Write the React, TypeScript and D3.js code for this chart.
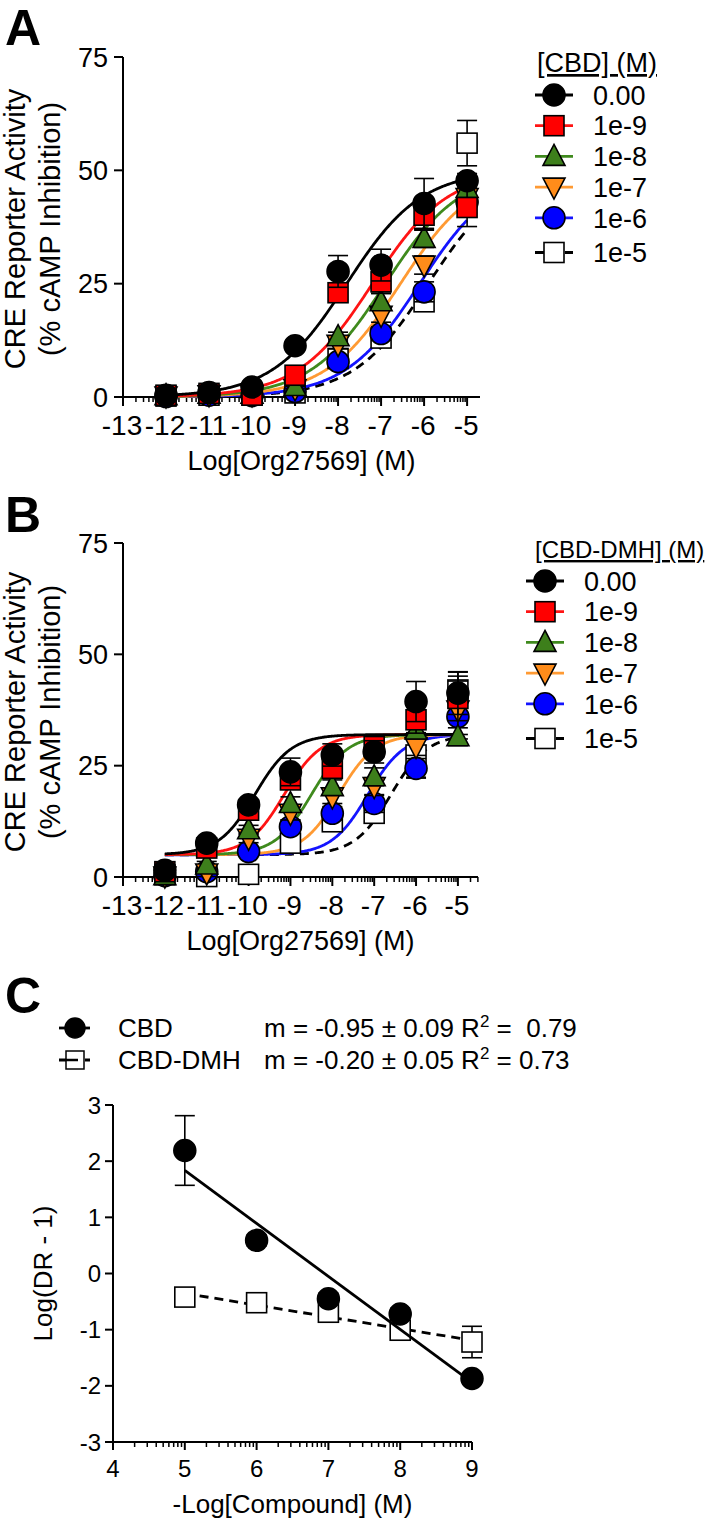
import React from 'react';
import * as d3 from 'd3';

// ---------- data ----------
const DOSES = [-12, -11, -10, -9, -8, -7, -6, -5];
const X_TICKS_AB = [-13, -12, -11, -10, -9, -8, -7, -6, -5];
const Y_TICKS_AB = [0, 25, 50, 75];
const SERIES_LABELS = ['0.00', '1e-9', '1e-8', '1e-7', '1e-6', '1e-5'];
const SERIES_FILL = ['#000000', '#ff0000', '#3d7f1b', '#ff8c1a', '#0000ff', '#ffffff'];
const SERIES_LINE = ['#000000', '#ff1414', '#3f8a1d', '#ff9a33', '#1414ff', '#000000'];
const SERIES_SHAPE = ['circle', 'square', 'triUp', 'triDown', 'circle', 'square'];

// Panel A (CBD)
const A_0 = [0.4, 1.0, 2.2, 11.3, 27.7, 29.1, 42.7, 47.7];
const A_E9 = [0.4, 0.8, 0.4, 4.8, 23.0, 25.4, 40.1, 41.8];
const A_E8 = [0.3, 0.6, 0.6, 2.3, 13.3, 21.0, 35.0, 46.0];
const A_E7 = [0.2, 0.5, 0.5, 1.8, 11.6, 18.0, 29.1, 44.0];
const A_E6 = [0.1, 0.4, 0.3, 1.2, 7.8, 14.0, 23.2, 43.0];
const A_E5 = [0.2, 0.4, 0.4, 0.9, 8.5, 13.0, 21.0, 56.0];
const A_SEM_0 = [0.3, 0.3, 0.5, 1.0, 3.5, 3.5, 5.5, 1.6];
const A_SEM_E9 = [0.2, 0.2, 0.3, 0.8, 1.5, 2.5, 3.3, 4.2];
const A_SEM_E8 = [0.2, 0.2, 0.2, 0.5, 1.0, 1.8, 2.0, 2.5];
const A_SEM_E7 = [0.2, 0.2, 0.2, 0.5, 1.0, 1.5, 2.0, 2.5];
const A_SEM_E6 = [0.2, 0.2, 0.2, 0.5, 1.0, 1.5, 2.2, 2.5];
const A_SEM_E5 = [0.2, 0.2, 0.2, 0.5, 1.0, 1.5, 2.0, 5.0];
const A_LOGEC50 = [-7.8, -7.2, -6.9, -6.55, -6.1, -5.9];
const A_TOP = [50, 50, 50, 50, 50, 50];
const A_BOTTOM = [0, 0, 0, 0, 0, 0];
const A_HILL = [0.5, 0.5, 0.5, 0.5, 0.5, 0.5];

// Panel B (CBD-DMH)
const B_0 = [1.5, 7.6, 16.2, 23.6, 27.4, 28.1, 39.4, 41.3];
const B_E9 = [1.2, 6.5, 15.0, 21.8, 24.4, 29.3, 35.3, 40.1];
const B_E8 = [0.3, 2.7, 10.6, 16.5, 20.3, 22.5, 33.0, 31.5];
const B_E7 = [0.2, 0.9, 8.7, 14.3, 18.0, 20.3, 29.3, 37.5];
const B_E6 = [0.3, 1.2, 5.7, 11.3, 14.3, 16.5, 24.4, 36.0];
const B_E5 = [0.5, 0.1, 0.6, 7.6, 12.4, 14.3, 27.4, 42.0];
const B_SEM_0 = [0.5, 1.0, 1.2, 3.1, 2.5, 2.5, 4.5, 4.8];
const B_SEM_E9 = [0.3, 0.8, 1.0, 1.5, 2.0, 2.5, 3.0, 5.0];
const B_SEM_E8 = [0.3, 0.8, 1.0, 1.5, 1.5, 2.0, 2.0, 2.0];
const B_SEM_E7 = [0.3, 0.8, 1.0, 1.5, 1.5, 2.0, 2.0, 6.5];
const B_SEM_E6 = [0.3, 0.8, 1.0, 1.5, 1.5, 2.0, 2.2, 4.0];
const B_SEM_E5 = [0.3, 0.5, 1.0, 1.5, 1.5, 2.0, 5.0, 4.0];
const B_LOGEC50 = [-9.85, -9.15, -8.5, -7.85, -7.15, -6.6];
const B_TOP = [32, 32, 32, 32, 32, 32];
const B_BOTTOM = [5, 5, 5, 5, 5, 5];
const B_HILL = [1, 1, 1, 1, 1, 1];

// Panel C (Schild)
const C_X = [5, 6, 7, 8, 9];
const C_CBD = [2.19, 0.59, -0.45, -0.72, -1.87];
const C_CBD_SEM = [0.62, 0.1, 0.1, 0.1, 0.05];
const C_DMH = [-0.42, -0.52, -0.69, -1.01, -1.22];
const C_DMH_SEM = [0.05, 0.05, 0.1, 0.1, 0.28];
const X_TICKS_C = [4, 5, 6, 7, 8, 9];
const Y_TICKS_C = [-3, -2, -1, 0, 1, 2, 3];

const FONT = "'Liberation Sans', Arial, Helvetica, sans-serif";

// ---------- helpers ----------
function hill(x: number, b: number, t: number, ec: number, h: number) {
  return b + (t - b) / (1 + Math.pow(10, (ec - x) * h));
}

function Marker({ shape, x, y, fill }: { shape: string; x: number; y: number; fill: string }) {
  const st = { stroke: '#000', strokeWidth: 1.6, fill };
  if (shape === 'circle') return <circle cx={x} cy={y} r={11} {...st} />;
  if (shape === 'square') return <rect x={x - 10} y={y - 10} width={20} height={20} {...st} />;
  if (shape === 'triUp')
    return <path d={`M${x},${y - 12}L${x + 11},${y + 9}L${x - 11},${y + 9}Z`} {...st} />;
  return <path d={`M${x - 11},${y - 9}L${x + 11},${y - 9}L${x},${y + 12}Z`} {...st} />;
}

function ErrBar({ x, y1, y2 }: { x: number; y1: number; y2: number }) {
  return (
    <g stroke="#000" strokeWidth={1.6}>
      <line x1={x} x2={x} y1={y1} y2={y2} />
      <line x1={x - 10} x2={x + 10} y1={y1} y2={y1} />
      <line x1={x - 10} x2={x + 10} y1={y2} y2={y2} />
    </g>
  );
}

function minorTicks(majors: number[], end: number) {
  const out: number[] = [];
  majors.forEach((m) => {
    for (let k = 2; k <= 9; k++) {
      const v = m + Math.log10(k);
      if (v <= end + 1e-9) out.push(v);
    }
  });
  return out;
}

type DoseProps = {
  letter: string;
  xDomain: [number, number];
  xRange: [number, number];
  yRange: [number, number];
  means: number[][];
  sems: number[][];
  ec: number[];
  tops: number[];
  bottoms: number[];
  hills: number[];
  legendTitle: string;
  legendX: number;
  legendTitleX: number;
  legendTitleY: number;
  legendTitleSize: number;
  letterY: number;
};

function DosePanel(p: DoseProps) {
  const x = d3.scaleLinear().domain(p.xDomain).range(p.xRange);
  const y = d3.scaleLinear().domain([0, 75]).range(p.yRange);
  const y0 = y(0);
  const xs = d3.range(-12, -5 + 1e-9, 0.02);
  const order = [5, 4, 3, 2, 1, 0];
  const minors = minorTicks(X_TICKS_AB, p.xDomain[1]);
  const cyTitle = (p.yRange[0] + p.yRange[1]) / 2 + 2;
  return (
    <g>
      <text x={5} y={p.letterY} fontSize={50} fontWeight="bold" fontFamily={FONT}>
        {p.letter}
      </text>
      {/* axes */}
      <g stroke="#000" strokeWidth={2} fill="none">
        <line x1={p.xRange[0]} x2={p.xRange[0]} y1={y(75)} y2={y0} />
        <line x1={p.xRange[0]} x2={p.xRange[1]} y1={y0} y2={y0} />
        {Y_TICKS_AB.map((t) => (
          <line key={'yt' + t} x1={p.xRange[0] - 9} x2={p.xRange[0]} y1={y(t)} y2={y(t)} />
        ))}
        {X_TICKS_AB.map((t) => (
          <line key={'xt' + t} x1={x(t)} x2={x(t)} y1={y0} y2={y0 + 9} />
        ))}
        {minors.map((t, i) => (
          <line key={'mt' + i} x1={x(t)} x2={x(t)} y1={y0} y2={y0 + 5} strokeWidth={1.5} />
        ))}
      </g>
      {Y_TICKS_AB.map((t) => (
        <text key={'yl' + t} x={p.xRange[0] - 15} y={y(t)} dy="0.36em" textAnchor="end" fontSize={27} fontFamily={FONT}>
          {t}
        </text>
      ))}
      {X_TICKS_AB.map((t) => (
        <text key={'xl' + t} x={x(t) - 1} y={y0 + 38} textAnchor="middle" fontSize={28} fontFamily={FONT}>
          {String(t)}
        </text>
      ))}
      <text x={(p.xRange[0] + p.xRange[1]) / 2} y={y0 + 73} textAnchor="middle" fontSize={27} fontFamily={FONT}>
        Log[Org27569] (M)
      </text>
      <text transform={`translate(25,${cyTitle}) rotate(-90)`} textAnchor="middle" fontSize={29} fontFamily={FONT}>
        CRE Reporter Activity
      </text>
      <text transform={`translate(60,${cyTitle}) rotate(-90)`} textAnchor="middle" fontSize={29} fontFamily={FONT}>
        (% cAMP Inhibition)
      </text>
      {/* curves */}
      {order.map((s) => {
        const line = d3
          .line<number>()
          .x((v) => x(v))
          .y((v) => y(hill(v, p.bottoms[s], p.tops[s], p.ec[s], p.hills[s])));
        return (
          <path
            key={'c' + s}
            d={line(xs) || ''}
            fill="none"
            stroke={SERIES_LINE[s]}
            strokeWidth={2.8}
            strokeDasharray={s === 5 ? '9,6' : undefined}
          />
        );
      })}
      {/* points */}
      {order.map((s) => (
        <g key={'p' + s}>
          {DOSES.map((d, i) => (
            <ErrBar key={'e' + i} x={x(d)} y1={y(p.means[s][i] + p.sems[s][i])} y2={y(Math.max(0, p.means[s][i] - p.sems[s][i]))} />
          ))}
          {DOSES.map((d, i) => (
            <Marker key={'m' + i} shape={SERIES_SHAPE[s]} x={x(d)} y={y(p.means[s][i])} fill={SERIES_FILL[s]} />
          ))}
        </g>
      ))}
      {/* legend */}
      <text x={p.legendTitleX} y={p.legendTitleY} fontSize={p.legendTitleSize} fontFamily={FONT} textDecoration="underline">
        {p.legendTitle}
      </text>
      {SERIES_LABELS.map((lab, s) => {
        const cy = p.legendTitleY - 10 + 33 + s * 30.7 + (s === 5 ? 4 : 0);
        return (
          <g key={'lg' + s}>
            <line
              x1={p.legendX}
              x2={p.legendX + 38}
              y1={cy}
              y2={cy}
              stroke={SERIES_LINE[s]}
              strokeWidth={2.8}
              strokeDasharray={s === 5 ? '9,6' : undefined}
            />
            <Marker shape={SERIES_SHAPE[s]} x={p.legendX + 19} y={cy} fill={SERIES_FILL[s]} />
            <text x={p.legendX + 58} y={cy} dy="0.36em" fontSize={27} fontFamily={FONT}>
              {lab}
            </text>
          </g>
        );
      })}
    </g>
  );
}

function linFit(xs: number[], ys: number[]) {
  const mx = d3.mean(xs) as number;
  const my = d3.mean(ys) as number;
  let num = 0;
  let den = 0;
  xs.forEach((v, i) => {
    num += (v - mx) * (ys[i] - my);
    den += (v - mx) * (v - mx);
  });
  const m = num / den;
  return (v: number) => my + m * (v - mx);
}

function SchildPanel() {
  const x = d3.scaleLinear().domain([4, 9]).range([113, 472]);
  const y = d3.scaleLinear().domain([-3, 3]).range([1442, 1105]);
  const y0 = y(-3);
  const minors = minorTicks([4, 5, 6, 7, 8], 9);
  const fCbd = linFit(C_X, C_CBD);
  const fDmh = linFit(C_X, C_DMH);
  const line = d3.line<[number, number]>().x((d) => x(d[0])).y((d) => y(d[1]));
  const ends = [5, 9];
  return (
    <g>
      <text x={5} y={1013} fontSize={50} fontWeight="bold" fontFamily={FONT}>
        C
      </text>
      {/* legend */}
      <line x1={59} x2={90} y1={1028} y2={1028} stroke="#000" strokeWidth={2.8} />
      <circle cx={75} cy={1028} r={10} fill="#000" stroke="#000" strokeWidth={1.5} />
      <text x={118} y={1028} dy="0.36em" fontSize={26} fontFamily={FONT}>CBD</text>
      <text x={264} y={1028} dy="0.36em" fontSize={26} fontFamily={FONT} xmlSpace="preserve" style={{ whiteSpace: 'pre' }}>
        m = -0.95 ± 0.09 R<tspan fontSize={17} dy={-10}>2</tspan><tspan dy={10}> =  0.79</tspan>
      </text>
      <line x1={59} x2={90} y1={1060} y2={1060} stroke="#000" strokeWidth={2.8} strokeDasharray="8,5" />
      <rect x={66} y={1051} width={18} height={18} fill="#fff" stroke="#000" strokeWidth={1.5} />
      <line x1={66} x2={78} y1={1060} y2={1060} stroke="#000" strokeWidth={2.5} />
      <text x={118} y={1060} dy="0.36em" fontSize={26} fontFamily={FONT}>CBD-DMH</text>
      <text x={264} y={1060} dy="0.36em" fontSize={26} fontFamily={FONT} xmlSpace="preserve" style={{ whiteSpace: 'pre' }}>
        m = -0.20 ± 0.05 R<tspan fontSize={17} dy={-10}>2</tspan><tspan dy={10}> = 0.73</tspan>
      </text>
      {/* axes */}
      <g stroke="#000" strokeWidth={2} fill="none">
        <line x1={x(4)} x2={x(4)} y1={y(3)} y2={y0} />
        <line x1={x(4)} x2={x(9)} y1={y0} y2={y0} />
        {Y_TICKS_C.map((t) => (
          <line key={'yt' + t} x1={x(4) - 8} x2={x(4)} y1={y(t)} y2={y(t)} />
        ))}
        {X_TICKS_C.map((t) => (
          <line key={'xt' + t} x1={x(t)} x2={x(t)} y1={y0} y2={y0 + 8} />
        ))}
        {minors.map((t, i) => (
          <line key={'mt' + i} x1={x(t)} x2={x(t)} y1={y0} y2={y0 + 5} strokeWidth={1.5} />
        ))}
      </g>
      {Y_TICKS_C.map((t) => (
        <text key={'yl' + t} x={x(4) - 12} y={y(t)} dy="0.36em" textAnchor="end" fontSize={24} fontFamily={FONT}>
          {String(t)}
        </text>
      ))}
      {X_TICKS_C.map((t) => (
        <text key={'xl' + t} x={x(t)} y={y0 + 35} textAnchor="middle" fontSize={24} fontFamily={FONT}>
          {String(t)}
        </text>
      ))}
      <text x={(x(4) + x(9)) / 2} y={y0 + 71} textAnchor="middle" fontSize={26} fontFamily={FONT}>
        -Log[Compound] (M)
      </text>
      <text transform={`translate(52,${y(0)}) rotate(-90)`} textAnchor="middle" fontSize={26} fontFamily={FONT}>
        Log(DR - 1)
      </text>
      {/* regression lines */}
      <path d={line(ends.map((v) => [v, fDmh(v)] as [number, number])) || ''} fill="none" stroke="#000" strokeWidth={2.8} strokeDasharray="9,6" />
      {C_X.map((v, i) => (
        <g key={'d' + i}>
          <ErrBar x={x(v)} y1={y(C_DMH[i] + C_DMH_SEM[i])} y2={y(C_DMH[i] - C_DMH_SEM[i])} />
          <rect x={x(v) - 10} y={y(C_DMH[i]) - 10} width={20} height={20} fill="#fff" stroke="#000" strokeWidth={1.6} />
        </g>
      ))}
      <path d={line(ends.map((v) => [v, fCbd(v)] as [number, number])) || ''} fill="none" stroke="#000" strokeWidth={2.8} />
      {C_X.map((v, i) => (
        <g key={'c' + i}>
          <ErrBar x={x(v)} y1={y(C_CBD[i] + C_CBD_SEM[i])} y2={y(C_CBD[i] - C_CBD_SEM[i])} />
          <circle cx={x(v)} cy={y(C_CBD[i])} r={11} fill="#000" stroke="#000" strokeWidth={1.5} />
        </g>
      ))}
    </g>
  );
}

export default function App() {
  return (
    <svg
      width={709}
      height={1523}
      viewBox="0 0 709 1523"
      style={{ position: 'absolute', left: 0, top: 0, display: 'block', background: '#fff' }}
    >
      <rect width={709} height={1523} fill="#fff" />
      <DosePanel
        letter="A"
        letterY={45}
        xDomain={[-13, -4.7]}
        xRange={[123, 480]}
        yRange={[397, 57]}
        means={[A_0, A_E9, A_E8, A_E7, A_E6, A_E5]}
        sems={[A_SEM_0, A_SEM_E9, A_SEM_E8, A_SEM_E7, A_SEM_E6, A_SEM_E5]}
        ec={A_LOGEC50}
        tops={A_TOP}
        bottoms={A_BOTTOM}
        hills={A_HILL}
        legendTitle="[CBD] (M)"
        legendX={535}
        legendTitleX={537}
        legendTitleY={72}
        legendTitleSize={27}
      />
      <DosePanel
        letter="B"
        letterY={532}
        xDomain={[-13, -4.52]}
        xRange={[123, 478]}
        yRange={[877, 543]}
        means={[B_0, B_E9, B_E8, B_E7, B_E6, B_E5]}
        sems={[B_SEM_0, B_SEM_E9, B_SEM_E8, B_SEM_E7, B_SEM_E6, B_SEM_E5]}
        ec={B_LOGEC50}
        tops={B_TOP}
        bottoms={B_BOTTOM}
        hills={B_HILL}
        legendTitle="[CBD-DMH] (M)"
        legendX={526}
        legendTitleX={535}
        legendTitleY={558}
        legendTitleSize={24}
      />
      <SchildPanel />
    </svg>
  );
}
